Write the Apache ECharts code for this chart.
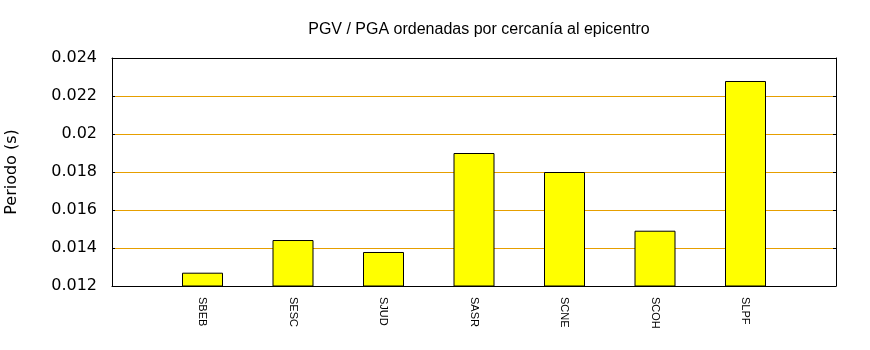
<!DOCTYPE html>
<html>
<head>
<meta charset="utf-8">
<script src="https://cdn.jsdelivr.net/npm/echarts@6/dist/echarts.min.js"></script>
<style>html,body{margin:0;padding:0;background:#fff}#c{width:870px;height:350px}</style>
</head>
<body>
<div id="c"></div>
<script>
var stations = ['SBEB', 'SESC', 'SJUD', 'SASR', 'SCNE', 'SCOH', 'SLPF'];
var periods = [0.0127, 0.01442, 0.01379, 0.0190, 0.0180, 0.01491, 0.02279];
var yTicks = [0.012, 0.014, 0.016, 0.018, 0.02, 0.022, 0.024];

var cats = [''].concat(stations).concat(['']);
var vals = [null].concat(periods).concat([null]);

var chart = echarts.init(document.getElementById('c'), null, {renderer: 'canvas'});
chart.setOption({
  animation: false,
  backgroundColor: '#ffffff',
  title: {
    text: 'PGV / PGA ordenadas por cercanía al epicentro',
    left: 474, top: 17, textAlign: 'center',
    textStyle: {fontFamily: 'Liberation Sans', fontSize: 16, fontWeight: 'normal', color: '#000'}
  },
  grid: {left: 112, right: 34, top: 58, bottom: 64, show: false, outerBoundsMode: 'none', containLabel: false},
  xAxis: [{
    type: 'category', data: cats, boundaryGap: false,
    axisLine: {lineStyle: {color: '#000'}},
    axisTick: {show: false},
    splitLine: {show: false},
    axisLabel: {
      rotate: -90, margin: 11, interval: 0,
      fontFamily: 'Liberation Sans', fontSize: 11, color: '#000'
    }
  }, {
    type: 'category', data: cats, boundaryGap: false, position: 'top',
    axisLine: {lineStyle: {color: '#000'}},
    axisTick: {show: false}, axisLabel: {show: false}, splitLine: {show: false}
  }],
  yAxis: [{
    type: 'value', min: yTicks[0], max: yTicks[yTicks.length - 1], interval: 0.002,
    name: 'Periodo (s)', nameLocation: 'middle', nameGap: 92, nameRotate: 90,
    nameTextStyle: {fontFamily: 'DejaVu Sans', fontSize: 16, color: '#000'},
    axisLine: {show: true, lineStyle: {color: '#000'}},
    axisTick: {show: true, inside: true, length: 3, lineStyle: {color: '#000'}},
    axisLabel: {margin: 15, fontFamily: 'DejaVu Sans', fontSize: 16, color: '#000',
      formatter: function (v) { return String(parseFloat(v.toFixed(4))); }},
    splitLine: {show: true, lineStyle: {color: '#e69f00', width: 1}}
  }, {
    type: 'value', position: 'right', min: yTicks[0], max: yTicks[yTicks.length - 1], interval: 0.002,
    axisLine: {show: true, lineStyle: {color: '#000'}},
    axisTick: {show: true, inside: true, length: 3, lineStyle: {color: '#000'}},
    axisLabel: {show: false},
    splitLine: {show: false}
  }],
  series: [{
    type: 'bar', data: vals, barWidth: 41,
    itemStyle: {color: '#ffff00', borderColor: '#000', borderWidth: 1}
  }]
});
</script>
</body>
</html>
